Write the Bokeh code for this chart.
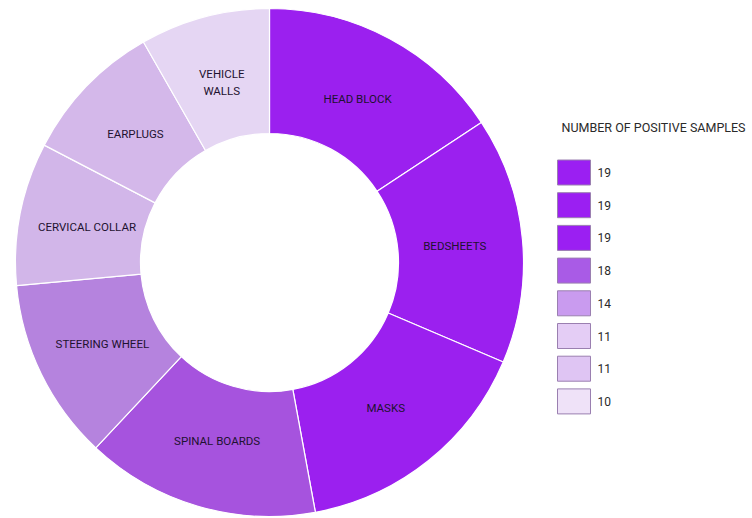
import math
from bokeh.plotting import figure
from bokeh.models import Range1d, ColumnDataSource
from bokeh.core.properties import value
from bokeh.embed import file_html
from bokeh.resources import INLINE

categories = ["HEAD BLOCK", "BEDSHEETS", "MASKS", "SPINAL BOARDS", "STEERING WHEEL",
              "CERVICAL COLLAR", "EARPLUGS", "VEHICLE\nWALLS"]
values = [19, 19, 19, 18, 14, 11, 11, 10]
colors = ["#9b20ef", "#9b20ef", "#9b20ef", "#a653de", "#b583de", "#d2b6e9", "#d4b8ea", "#e5d6f3"]
legend_colors = ["#9b1ff2", "#9b1ff2", "#9b1ff2", "#a95be6", "#c99bef", "#e4cdf5", "#dfc5f3", "#efe2f8"]
legend_title = "NUMBER OF POSITIVE SAMPLES"

W, H = 752, 518
# data coords: x = screen x, y = H - screen y
p = figure(width=W, height=H, output_backend="svg", toolbar_location=None,
           x_range=Range1d(0, W), y_range=Range1d(0, H), min_border=0)
p.axis.visible = False
p.grid.visible = False
p.outline_line_color = None
p.background_fill_color = "white"

cx, cy = 269, H - 262
r_out, r_in = 254, 129
total = sum(values)
starts, ends, mids = [], [], []
a = math.pi / 2
for v in values:
    d = v / total * 2 * math.pi
    starts.append(a)
    ends.append(a - d)
    mids.append(a - d / 2)
    a -= d

src = ColumnDataSource(dict(start=starts, end=ends, color=colors))
p.annular_wedge(x=cx, y=cy, inner_radius=r_in, outer_radius=r_out,
                start_angle="start", end_angle="end", direction="clock",
                fill_color="color", line_color="white", line_width=1.2, source=src)

r_lab = 186
lx = [cx + r_lab * math.cos(m) for m in mids]
ly = [cy + r_lab * math.sin(m) for m in mids]
p.text(x=lx, y=ly, text=categories, text_align="center", text_baseline="middle",
       text_font=value("Roboto"), text_font_size="11.5px", text_color="#1e1230",
       text_line_height=1.25)

# legend
p.text(x=[561], y=[H - 127], text=[legend_title], text_baseline="middle",
       text_font=value("Roboto"), text_font_size="12.5px", text_color="#2a2a2a")
box_y = [H - (172 + 32.7 * i) for i in range(len(values))]
p.rect(x=[573.5] * len(values), y=box_y, width=33, height=25,
       fill_color=legend_colors, line_color="#9a7fb0", line_width=1)
p.text(x=[597] * len(values), y=box_y, text=[str(v) for v in values],
       text_baseline="middle", text_font=value("Roboto"), text_font_size="12px",
       text_color="#2a2a2a")

open("out.html", "w").write(file_html(p, INLINE))
